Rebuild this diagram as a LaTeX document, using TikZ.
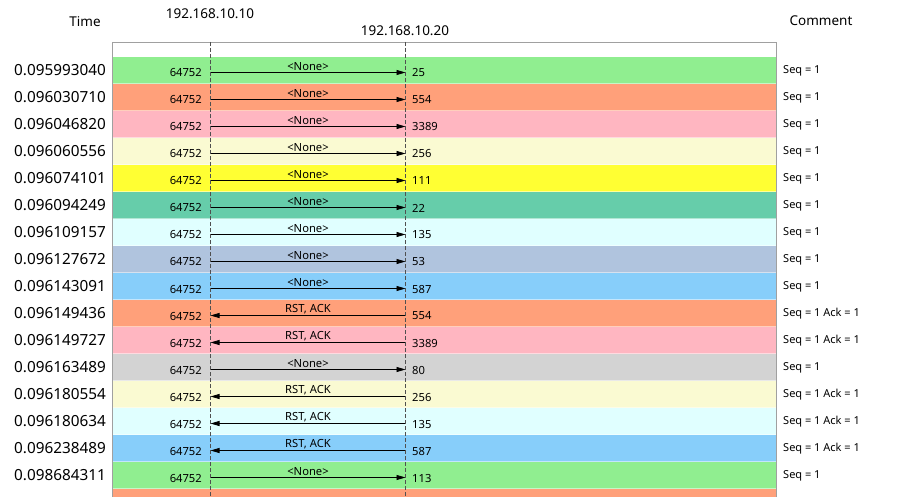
\documentclass[tikz,border=0pt]{standalone}
\usepackage{fontspec}
\setmainfont{Noto Sans}
\usetikzlibrary{arrows.meta}
\definecolor{cgreen}{HTML}{90EE90}
\definecolor{csalmon}{HTML}{FFA07A}
\definecolor{cpink}{HTML}{FFB6C1}
\definecolor{cgold}{HTML}{FAFAD2}
\definecolor{cyellow}{HTML}{FFFF33}
\definecolor{caqua}{HTML}{66CDAA}
\definecolor{ccyan}{HTML}{E0FFFF}
\definecolor{csteel}{HTML}{B0C4DE}
\definecolor{csky}{HTML}{87CEFA}
\definecolor{cgray}{HTML}{D3D3D3}
\definecolor{frame}{HTML}{A0A0A0}
\definecolor{dash}{HTML}{505050}
\tikzset{
  timetxt/.style={anchor=east, inner sep=0pt, font=\fontsize{15.3}{17}\selectfont},
  headtxt/.style={inner sep=0pt, font=\fontsize{13.5}{16}\selectfont},
  porttxt/.style={inner sep=0pt, font=\fontsize{11.2}{13}\selectfont},
  labtxt/.style={anchor=south, inner sep=1.5pt, font=\fontsize{11.2}{13}\selectfont},
  comtxt/.style={anchor=west, inner sep=0pt, font=\fontsize{11}{13}\selectfont},
  fwd/.style={-{Triangle[length=9pt,width=5pt]}},
  bwd/.style={{Triangle[length=9pt,width=5pt]}-},
  lifeline/.style={draw=dash, dash pattern=on 4pt off 2pt, line width=0.6pt},
  msg/.style={line width=0.8pt},
}
\begin{document}
\begin{tikzpicture}[x=1pt,y=-1pt]
\useasboundingbox (0,0) rectangle (901,497);
\fill[white] (0,0) rectangle (901,497);
% header
\node[headtxt] (hTime) at (85,22) {Time};
\node[headtxt] (hA) at (210,14) {192.168.10.10};
\node[headtxt] (hB) at (405,31) {192.168.10.20};
\node[headtxt] (hC) at (821,21) {Comment};
% rows
\foreach \t/\c/\d/\p/\l/\m [count=\i from 0] in {
 0.095993040/cgreen/fwd/25/{<None>}/{Seq = 1},
 0.096030710/csalmon/fwd/554/{<None>}/{Seq = 1},
 0.096046820/cpink/fwd/3389/{<None>}/{Seq = 1},
 0.096060556/cgold/fwd/256/{<None>}/{Seq = 1},
 0.096074101/cyellow/fwd/111/{<None>}/{Seq = 1},
 0.096094249/caqua/fwd/22/{<None>}/{Seq = 1},
 0.096109157/ccyan/fwd/135/{<None>}/{Seq = 1},
 0.096127672/csteel/fwd/53/{<None>}/{Seq = 1},
 0.096143091/csky/fwd/587/{<None>}/{Seq = 1},
 0.096149436/csalmon/bwd/554/{RST, ACK}/{Seq = 1 Ack = 1},
 0.096149727/cpink/bwd/3389/{RST, ACK}/{Seq = 1 Ack = 1},
 0.096163489/cgray/fwd/80/{<None>}/{Seq = 1},
 0.096180554/cgold/bwd/256/{RST, ACK}/{Seq = 1 Ack = 1},
 0.096180634/ccyan/bwd/135/{RST, ACK}/{Seq = 1 Ack = 1},
 0.096238489/csky/bwd/587/{RST, ACK}/{Seq = 1 Ack = 1},
 0.098684311/cgreen/fwd/113/{<None>}/{Seq = 1}} {
  \pgfmathsetmacro{\top}{57+27*\i}
  \fill[\c] (112,\top) rectangle (776,\top+27);
  \draw[white, opacity=0.5, line width=0.6pt] (112,\top+26.7) -- (776,\top+26.7);
  \node[timetxt] (t\i) at (106,\top+13.5) {\t};
  \coordinate (a\i) at (210.5,\top+15.5);
  \coordinate (b\i) at (405.5,\top+15.5);
  \draw[msg,\d] (a\i) -- (b\i);
  \node[labtxt] (l\i) at (308,\top+15.5) {\l};
  \node[porttxt, anchor=east] (pa\i) at (202,\top+16) {64752};
  \node[porttxt, anchor=west] (pb\i) at (412,\top+16) {\p};
  \node[comtxt] (c\i) at (783,\top+13.5) {\m};
}
\fill[csalmon] (112,489) rectangle (776,497);
% frame
\draw[frame, line width=0.8pt] (112,497) -- (112,42) -- (776,42) -- (776,497);
% lifelines
\coordinate (la) at (210.5,42); \coordinate (lae) at (210.5,497);
\coordinate (lb) at (405.5,42); \coordinate (lbe) at (405.5,497);
\draw[lifeline] (la) -- (lae);
\draw[lifeline] (lb) -- (lbe);
\end{tikzpicture}
\end{document}
